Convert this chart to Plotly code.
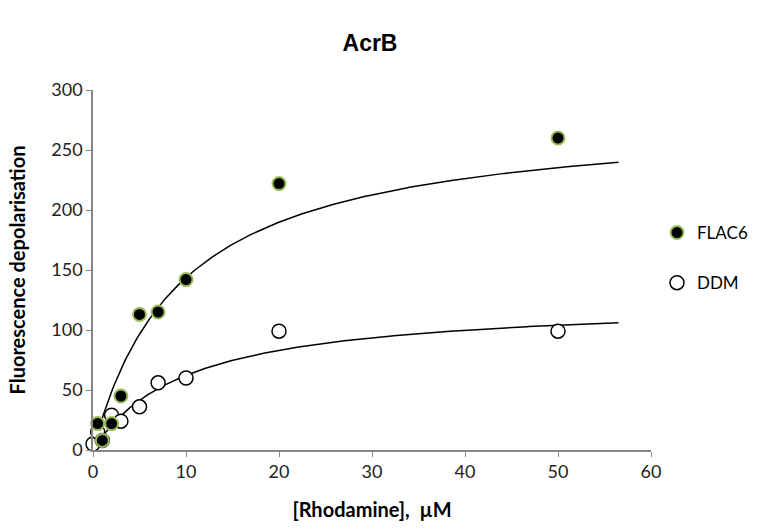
import numpy as np
import plotly.graph_objects as go

# Data
flac6_x = [0.5, 1, 2, 3, 5, 7, 10, 20, 50]
flac6_y = [22, 8, 22, 45, 113, 115, 142, 222, 260]
ddm_x = [0, 0.5, 1, 2, 3, 5, 7, 10, 20, 50]
ddm_y = [5, 15, 8, 29, 24, 36, 56, 60, 99, 99]

# One-site binding fit parameters (estimated from the drawn curves)
flac6_bmax, flac6_kd = 280.0, 9.5
ddm_bmax, ddm_kd = 125.0, 10.1
fit_xmax = 56.5

xf = np.linspace(0, fit_xmax, 300)

fig = go.Figure()
fig.add_trace(go.Scatter(x=xf, y=flac6_bmax * xf / (flac6_kd + xf), mode="lines",
                         line=dict(color="black", width=1.5), showlegend=False, hoverinfo="skip"))
fig.add_trace(go.Scatter(x=xf, y=ddm_bmax * xf / (ddm_kd + xf), mode="lines",
                         line=dict(color="black", width=1.5), showlegend=False, hoverinfo="skip"))
fig.add_trace(go.Scatter(x=ddm_x, y=ddm_y, mode="markers", name="DDM", legendgroup="b",
                         marker=dict(size=14, color="white", line=dict(color="black", width=1.5)),
                         cliponaxis=False, legendrank=2))
fig.add_trace(go.Scatter(x=flac6_x, y=flac6_y, mode="markers", name="FLAC6", legendgroup="a",
                         marker=dict(size=13, color="black", line=dict(color="#9BBB59", width=2)),
                         cliponaxis=False, legendrank=1))

tick_font = dict(family="Lato, Liberation Sans, sans-serif", size=18, color="#222")
title_font = dict(family="Lato, Liberation Sans, sans-serif", size=20, color="black")
fig.update_layout(
    width=757, height=532,
    paper_bgcolor="white", plot_bgcolor="white",
    margin=dict(l=93, r=106, t=90, b=82),
    title=dict(text="<b>AcrB</b>", x=370 / 757, xanchor="center", y=1 - 43 / 532, yanchor="middle",
               font=dict(family="Liberation Sans, Arial, sans-serif", size=23, color="black")),
    xaxis=dict(range=[0, 60], tickvals=[0, 10, 20, 30, 40, 50, 60], showgrid=False, zeroline=False,
               showline=True, linecolor="#868686", linewidth=1.5, ticks="outside", ticklen=5,
               tickcolor="#868686", tickfont=tick_font, automargin=False,
               title=dict(text="<b>[Rhodamine],  µM</b>", standoff=22, font=title_font)),
    yaxis=dict(range=[0, 300], tickvals=[0, 50, 100, 150, 200, 250, 300], showgrid=False, zeroline=False,
               showline=True, linecolor="#868686", linewidth=1.5, ticks="outside", ticklen=5,
               tickcolor="#868686", tickfont=tick_font, automargin=False,
               title=dict(text="<b>Fluorescence depolarisation</b>", standoff=20, font=title_font)),
    legend=dict(xref="container", yref="container", x=657 / 757, y=1 - 215 / 532,
                xanchor="left", yanchor="top", tracegroupgap=25,
                font=dict(family="Lato, Liberation Sans, sans-serif", size=17, color="black"),
                itemwidth=30),
)
fig.write_html("out.html", config={"displayModeBar": False},
               post_script="document.body.style.margin='0';")
